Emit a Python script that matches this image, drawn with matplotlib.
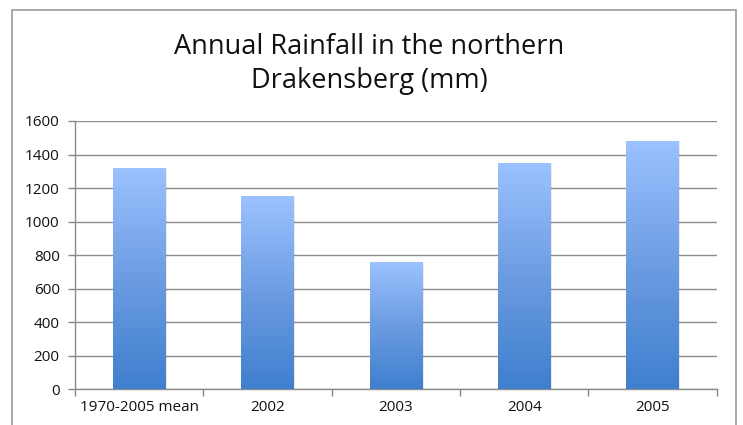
import matplotlib
matplotlib.use("Agg")
import matplotlib.pyplot as plt
import numpy as np
from matplotlib.colors import LinearSegmentedColormap
from matplotlib.patches import Rectangle

categories = ["1970-2005 mean", "2002", "2003", "2004", "2005"]
rainfall = [1320, 1150, 760, 1350, 1480]
yticks = [0, 200, 400, 600, 800, 1000, 1200, 1400, 1600]
title_lines = ["Annual Rainfall in the northern", "Drakensberg (mm)"]

plt.rcParams['font.family'] = ['Open Sans', 'DejaVu Sans']

fig = plt.figure(figsize=(7.43, 4.25), dpi=100)
fig.patch.set_facecolor('white')

# chart border
border = Rectangle((12/743, -0.05), (736-12)/743, 1.05 - 10/425, transform=fig.transFigure,
                   fill=False, edgecolor='#9a9a9a', lw=1.2)
fig.patches.append(border)

ax = fig.add_axes([75/743, 1-389.3/425, (716.7-75)/743, (389.3-121)/425])
x = np.arange(len(categories))
width = 0.41
bars = ax.bar(x, rainfall, width=width, color='none', zorder=3)

cmap = LinearSegmentedColormap.from_list('g', ['#3F7FCE', '#6C9CE2', '#9CC2FF'])
grad = np.linspace(0, 1, 256).reshape(-1, 1)
for b in bars:
    x0, w, h = b.get_x(), b.get_width(), b.get_height()
    sh = Rectangle((x0 + 0.012, 0), w, h - 5, facecolor='#000000', alpha=0.08, lw=0, zorder=2)
    ax.add_patch(sh)
    im = ax.imshow(grad, cmap=cmap, origin='lower', aspect='auto',
                   extent=[x0, x0 + w, 0, h], zorder=3)
    im.set_clip_path(b)

ax.set_xlim(-0.5, len(categories) - 0.5)
ax.set_ylim(0, 1600)
ax.set_yticks(yticks)
ax.set_yticklabels([str(v) for v in yticks], fontsize=11, color='#111111')
ax.set_xticks(x)
ax.set_xticklabels(categories, fontsize=11, color='#111111')
ax.tick_params(axis='x', length=0, pad=8)
ax.set_xticks(np.arange(-0.5, len(categories)), minor=True)
ax.tick_params(axis='x', which='minor', length=5, color='#888888', width=1)
ax.tick_params(axis='y', length=5, color='#888888', width=1, pad=6)

ax.yaxis.grid(True, color='#8c8c8c', lw=1)
ax.set_axisbelow(True)
for s in ['top', 'right']:
    ax.spines[s].set_visible(False)
for s in ['left', 'bottom']:
    ax.spines[s].set_color('#8c8c8c')
    ax.spines[s].set_linewidth(1)

fig.text(369/743, 1 - 53.5/425, title_lines[0], ha='center', va='baseline',
         fontsize=19.5, color='#111111')
fig.text(369/743, 1 - 88/425, title_lines[1], ha='center', va='baseline',
         fontsize=19.5, color='#111111')

fig.savefig("out.png", dpi=100)
